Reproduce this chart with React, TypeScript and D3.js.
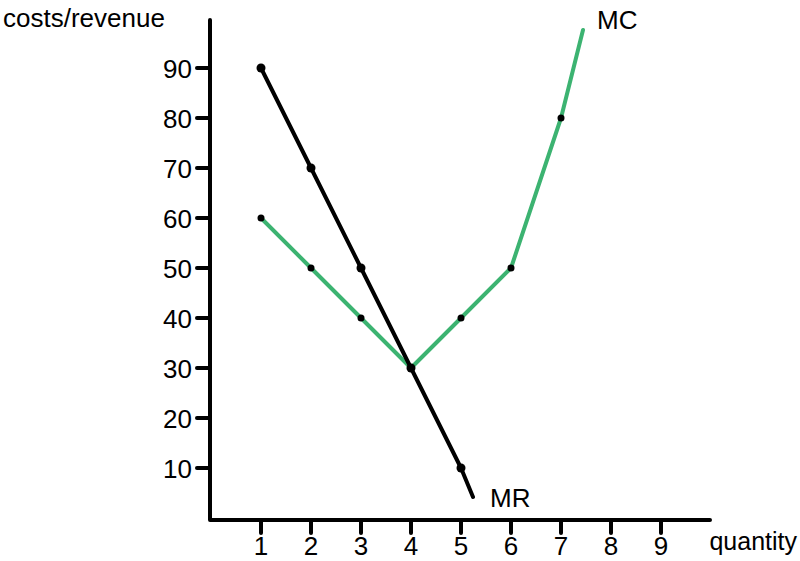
import React from "react";
import * as d3 from "d3";

const quantities = [1, 2, 3, 4, 5, 6, 7, 8, 9];
const yTicks = [10, 20, 30, 40, 50, 60, 70, 80, 90];
const mrPoints: [number, number][] = [[1, 90], [2, 70], [3, 50], [4, 30], [5, 10]];
const mrEnd: [number, number] = [5.24, 4.2];
const mcPoints: [number, number][] = [[1, 60], [2, 50], [3, 40], [4, 30], [5, 40], [6, 50], [7, 80]];
const mcEnd: [number, number] = [7.44, 97.6];

const W = 800, H = 561;
const x = d3.scaleLinear().domain([0, 10]).range([211, 711]);
const y = d3.scaleLinear().domain([0, 100]).range([518, 18]);
const GREEN = "#3cb371";
const FONT = "Liberation Sans, Arial, sans-serif";
const FS = 26;

export default function App() {
  const line = d3.line<[number, number]>().x(d => x(d[0])).y(d => y(d[1]));
  const mrLine = [...mrPoints, mrEnd];
  const mcLine = [...mcPoints, mcEnd];
  const axisX0 = 210, axisY0 = 520;
  return (
    <svg width={W} height={H} style={{ position: "absolute", left: 0, top: 0, background: "#fff" }}>
      <rect width={W} height={H} fill="#fff" />
      {/* axes */}
      <path d={`M${axisX0},20 L${axisX0},${axisY0} L710,${axisY0}`} fill="none" stroke="#000" strokeWidth={4} strokeLinecap="round" strokeLinejoin="round" />
      {yTicks.map(t => (
        <g key={"y" + t}>
          <line x1={197} x2={axisX0} y1={y(t)} y2={y(t)} stroke="#000" strokeWidth={4} strokeLinecap="round" />
          <text x={192} y={y(t) + 10} textAnchor="end" fontFamily={FONT} fontSize={FS} fill="#000">{t}</text>
        </g>
      ))}
      {quantities.map(q => (
        <g key={"x" + q}>
          <line x1={x(q)} x2={x(q)} y1={axisY0} y2={533} stroke="#000" strokeWidth={4} strokeLinecap="round" />
          <text x={x(q)} y={555} textAnchor="middle" fontFamily={FONT} fontSize={FS} fill="#000">{q}</text>
        </g>
      ))}
      <text x={3} y={27} fontFamily={FONT} fontSize={FS} fill="#000">costs/revenue</text>
      <text x={797} y={550} textAnchor="end" fontFamily={FONT} fontSize={25} fill="#000">quantity</text>
      {/* lines */}
      <path d={line(mcLine) || ""} fill="none" stroke={GREEN} strokeWidth={4} strokeLinecap="round" strokeLinejoin="round" />
      <path d={line(mrLine) || ""} fill="none" stroke="#000" strokeWidth={4} strokeLinecap="round" strokeLinejoin="round" />
      {mcPoints.map((p, i) => (
        <circle key={"mc" + i} cx={x(p[0])} cy={y(p[1])} r={3.5} fill="#000" />
      ))}
      {mrPoints.map((p, i) => (
        <circle key={"mr" + i} cx={x(p[0])} cy={y(p[1])} r={4.5} fill="#000" />
      ))}
      <text x={490} y={507} fontFamily={FONT} fontSize={FS} fill="#000">MR</text>
      <text x={597} y={29} fontFamily={FONT} fontSize={FS} fill="#000">MC</text>
    </svg>
  );
}
